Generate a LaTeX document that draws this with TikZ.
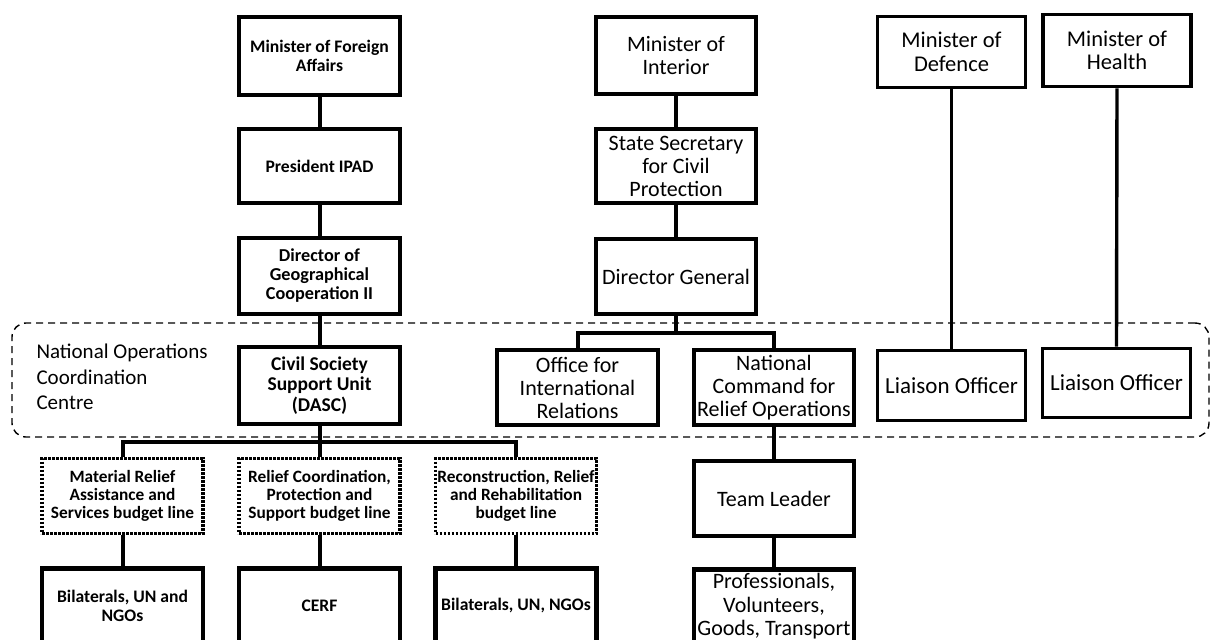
\documentclass[tikz,border=0pt]{standalone}
\usepackage{fontspec}
\setmainfont{Carlito}
\begin{document}
\begin{tikzpicture}[x=1pt,y=-1pt,
  box/.style={draw, line width=4.2pt, rectangle, align=center, inner sep=0pt},
  lbox/.style={box, minimum width=161pt, font=\bfseries\fontsize{17.6}{18.8}\selectfont},
  dbox/.style={lbox, line width=3.4pt, dash pattern=on 2.6pt off 1.4pt, font=\bfseries\fontsize{17.3}{18.2}\selectfont},
  mbox/.style={box, minimum width=160pt, font=\fontsize{22}{23}\selectfont},
  rbox/.style={box, line width=3.6pt, minimum width=148pt, font=\fontsize{22.5}{23.5}\selectfont},
  conn/.style={line width=4pt},
  thinconn/.style={line width=3.4pt},
  region/.style={draw, dashed, line width=1.4pt, dash pattern=on 7pt off 5pt, rounded corners=14pt, inner sep=0pt}
]
\useasboundingbox (0,0) rectangle (1211,640);

% dashed region
\node[region, minimum width=1197pt, minimum height=114pt] (nocc) at (610.5,380) {};
\node[anchor=west, align=left, font=\fontsize{21}{25.5}\selectfont] (noccl) at (33,377) {National Operations\\Coordination\\Centre};

% left column
\node[lbox, minimum height=78pt] (mfa) at (319.5,56) {Minister of Foreign\\Affairs};
\node[lbox, minimum height=74pt] (ipad) at (319.5,166) {President IPAD};
\node[lbox, minimum height=76pt, font=\bfseries\fontsize{18.2}{19}\selectfont] (dgc) at (319.5,276) {Director of\\Geographical\\Cooperation II};
\node[lbox, minimum height=77pt, font=\bfseries\fontsize{19.5}{20.8}\selectfont] (csu) at (319.5,385.5) {Civil Society\\Support Unit\\(DASC)};
\node[dbox, minimum height=75pt] (mat) at (122.5,496) {Material Relief\\Assistance and\\Services budget line};
\node[dbox, minimum height=75pt] (rcp) at (319.5,496) {Relief Coordination,\\Protection and\\Support budget line};
\node[dbox, minimum height=75pt] (rrr) at (516,496) {Reconstruction, Relief\\and Rehabilitation\\budget line};
\node[lbox, minimum height=75pt] (bil1) at (122.5,606) {Bilaterals, UN and\\NGOs};
\node[lbox, minimum height=75pt] (cerf) at (319.5,606) {CERF};
\node[lbox, minimum height=75pt] (bil2) at (516,606) {Bilaterals, UN, NGOs};

% middle column
\node[mbox, minimum height=77pt] (mint) at (676,55.5) {Minister of\\Interior};
\node[mbox, minimum height=74pt] (sscp) at (676,166) {State Secretary\\for Civil\\Protection};
\node[mbox, minimum height=75pt] (dg) at (676,276.5) {Director General};
\node[mbox, minimum height=75pt, minimum width=161pt] (oir) at (577.5,387.5) {Office for\\International\\Relations};
\node[mbox, minimum height=75pt] (ncro) at (774,387.5) {National\\Command for\\Relief Operations};
\node[mbox, minimum height=75pt] (tl) at (774,498.5) {Team Leader};
\node[mbox, minimum height=74pt, font=\fontsize{22}{23.5}\selectfont] (prof) at (774,606.5) {Professionals,\\Volunteers,\\Goods, Transport};

% right columns
\node[rbox, minimum height=71pt] (mdef) at (951.5,52) {Minister of\\Defence};
\node[rbox, minimum height=72pt] (mhea) at (1117,50.5) {Minister of\\Health};
\node[rbox, minimum height=70pt, font=\fontsize{23}{24}\selectfont] (lo1) at (951.5,385.5) {Liaison Officer};
\node[rbox, minimum height=69pt, font=\fontsize{23}{24}\selectfont] (lo2) at (1116.5,383) {Liaison Officer};

% bus coordinates
\coordinate (lbus) at (0,442);
\coordinate (ibus) at (0,333);

% left connectors
\draw[conn] (mfa.south) -- (ipad.north);
\draw[conn] (ipad.south) -- (dgc.north);
\draw[conn] (dgc.south) -- (csu.north);
\draw[conn] (csu.south) -- (rcp.north);
\draw[conn] (mat.north) -- (mat.north |- lbus) -- (rrr.north |- lbus) -- (rrr.north);
\draw[conn] (mat.south) -- (bil1.north);
\draw[conn] (rcp.south) -- (cerf.north);
\draw[conn] (rrr.south) -- (bil2.north);

% middle connectors
\draw[conn] (mint.south) -- (sscp.north);
\draw[conn] (sscp.south) -- (dg.north);
\draw[conn] (dg.south) -- (dg.south |- ibus);
\draw[conn] (oir.north) -- (oir.north |- ibus) -- (ncro.north |- ibus) -- (ncro.north);
\draw[conn] (ncro.south) -- (tl.north);
\draw[conn] (tl.south) -- (prof.north);

% right connectors
\draw[thinconn] (mdef.south) -- (lo1.north);
\draw[thinconn] (mhea.south) -- (lo2.north);
\end{tikzpicture}
\end{document}
